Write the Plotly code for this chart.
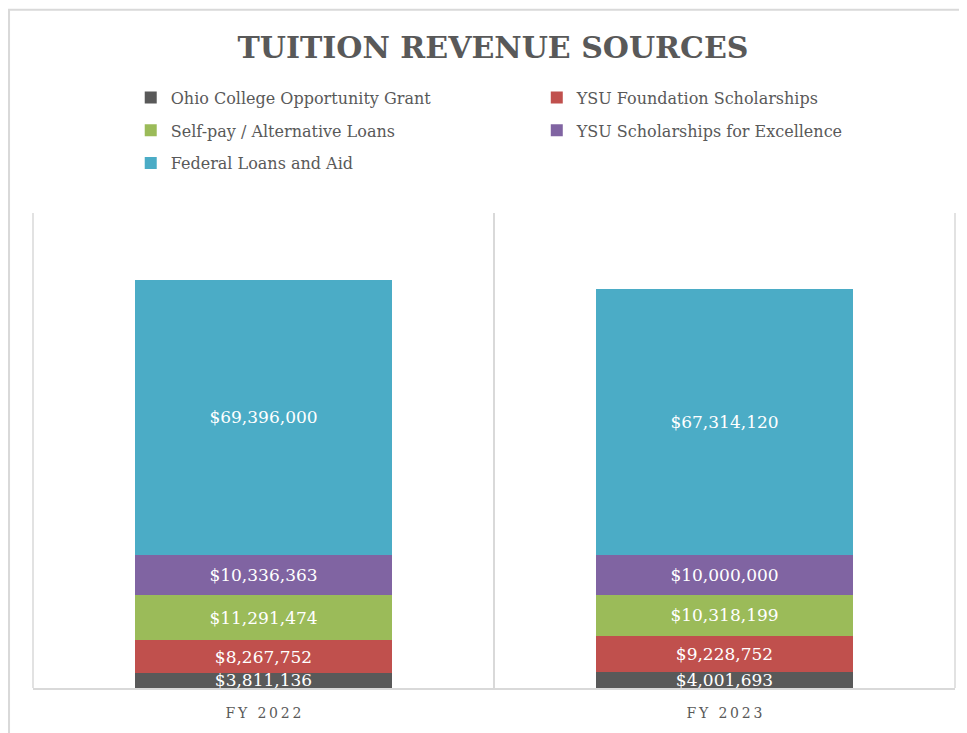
import plotly.graph_objects as go

# Data
years = ['FY 2022', 'FY 2023']
ohio_grant = [3811136, 4001693]
ysu_foundation = [8267752, 9228752]
self_pay = [11291474, 10318199]
ysu_excellence = [10336363, 10000000]
federal = [69396000, 67314120]

series = [
    ('Ohio College Opportunity Grant', ohio_grant, '#595959', 'legend'),
    ('YSU Foundation Scholarships', ysu_foundation, '#C0504D', 'legend2'),
    ('Self-pay / Alternative Loans', self_pay, '#9BBB59', 'legend3'),
    ('YSU Scholarships for Excellence', ysu_excellence, '#8064A2', 'legend4'),
    ('Federal Loans and Aid', federal, '#4BACC6', 'legend5'),
]

font_family = 'DejaVu Serif'
gray_text = '#595959'
grid_gray = '#D9D9D9'

fig = go.Figure()
for name, vals, color, leg in series:
    fig.add_trace(go.Bar(
        x=years,
        y=vals,
        name=name,
        marker=dict(color=color, line=dict(width=0)),
        text=[f'${v:,.0f}' for v in vals],
        textposition='inside',
        insidetextanchor='middle',
        constraintext='none',
        textfont=dict(family=font_family, size=17, color='white'),
        hoverinfo='name+y',
        legend=leg,
    ))

# letter-spaced category labels
spaced = ['\u2009'.join(list(y)) for y in years]


def legend_box(x, y):
    return dict(
        x=x, y=y,
        xanchor='left',
        yanchor='middle',
        orientation='h',
        font=dict(family=font_family, size=16, color=gray_text),
        bgcolor='rgba(0,0,0,0)',
        borderwidth=0,
    )


# two legend columns, three rows (one legend per entry so spacing is controllable)
col1, col2 = 0.106, 0.5464
row1, row2, row3 = 1.2432, 1.174, 1.1048

fig.update_layout(
    barmode='stack',
    bargap=0.443,
    width=959,
    height=725,
    margin=dict(l=25, r=12, t=205, b=42),
    paper_bgcolor='white',
    plot_bgcolor='white',
    font=dict(family=font_family, color=gray_text),
    title=dict(
        text='<b>TUITION REVENUE SOURCES</b>',
        x=0.5057, xanchor='center',
        y=0.9462, yanchor='middle',
        font=dict(family=font_family, size=30, color=gray_text),
    ),
    legend=legend_box(col1, row1),
    legend2=legend_box(col2, row1),
    legend3=legend_box(col1, row2),
    legend4=legend_box(col2, row2),
    legend5=legend_box(col1, row3),
    showlegend=True,
)

fig.update_xaxes(
    tickmode='array',
    tickvals=years,
    ticktext=spaced,
    tickson='boundaries',
    ticks='',
    showgrid=True,
    gridcolor=grid_gray,
    gridwidth=1.5,
    showline=True,
    linecolor=grid_gray,
    linewidth=2,
    tickfont=dict(family=font_family, size=14, color=gray_text),
    ticklabelstandoff=11,
)
fig.update_yaxes(
    range=[0, 120e6],
    showgrid=False,
    showticklabels=False,
    zeroline=False,
    showline=False,
)

# gridlines on the outer category boundaries (plot edges)
for xe in (0, 1):
    fig.add_shape(
        type='line', xref='paper', yref='paper',
        x0=xe, x1=xe, y0=0, y1=1,
        line=dict(color=grid_gray, width=1.5),
        layer='below',
    )

# outer chart border (only top and left edges fall inside the view)
fig.add_shape(
    type='rect', xref='paper', yref='paper',
    x0=-0.026, x1=1.05, y0=-0.2, y1=1.4277,
    line=dict(color=grid_gray, width=2),
    fillcolor='rgba(0,0,0,0)',
    layer='below',
)

fig.write_html('out.html')
